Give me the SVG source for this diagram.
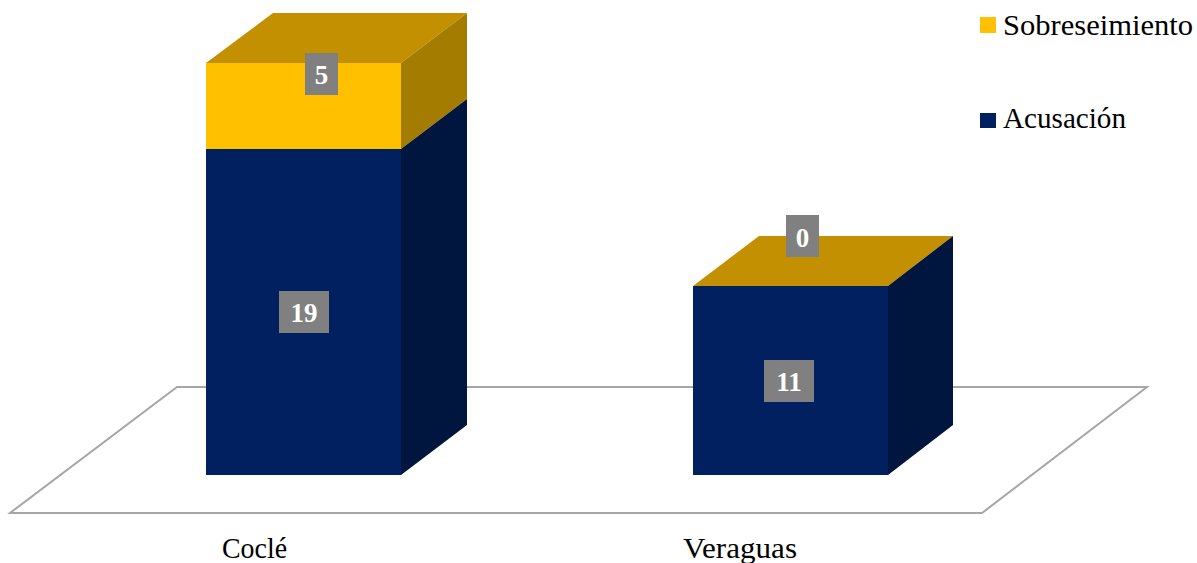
<svg xmlns="http://www.w3.org/2000/svg" width="1197" height="563" viewBox="0 0 1197 563">
<style>
.lbl{font-family:"Liberation Serif","DejaVu Serif",serif;font-weight:bold;font-size:27px;fill:#ffffff;text-anchor:middle}
.txt{font-family:"Liberation Serif","DejaVu Serif",serif;font-size:28.5px;fill:#000000}
.box{fill:#808080}
.navyF{fill:#002060}
.navyS{fill:#00163f}
.yelF{fill:#FFC000}
.yelT{fill:#C29000}
.yelS{fill:#A37C00}
</style>
<rect width="1197" height="563" fill="#ffffff"/>
<g id="floor">
<polygon points="10,513 177,387 1147,387 982,513" fill="#ffffff" stroke="#a6a6a6" stroke-width="2"/>
</g>
<g id="bar-cocle">
<polygon class="yelT" points="206,63 273,13 467,13 401,63"/>
<polygon class="yelS" points="401,63 467,13 467,99 401,149"/>
<polygon class="navyS" points="401,149 467,99 467,425 401,475"/>
<rect class="yelF" x="206" y="63" width="195" height="86"/>
<rect class="navyF" x="206" y="149" width="195" height="326"/>
<rect class="box" x="305" y="53" width="33" height="42"/>
<text class="lbl" x="321.5" y="84">5</text>
<rect class="box" x="279" y="291" width="50" height="42"/>
<text class="lbl" x="304" y="322">19</text>
</g>
<g id="bar-veraguas">
<polygon class="yelT" points="693,286 759,236 953,236 888,286"/>
<polygon class="navyS" points="888,286 953,236 953,425 888,475"/>
<rect class="navyF" x="693" y="286" width="195" height="189"/>
<rect class="box" x="786" y="215" width="33" height="42"/>
<text class="lbl" x="802.5" y="247">0</text>
<rect class="box" x="764" y="360" width="50" height="42"/>
<text class="lbl" x="789" y="391">11</text>
</g>
<g id="axis-labels">
<text class="txt" x="222" y="558" textLength="65" lengthAdjust="spacingAndGlyphs">Coclé</text>
<text class="txt" x="683" y="558" textLength="114" lengthAdjust="spacingAndGlyphs">Veraguas</text>
</g>
<g id="legend">
<rect class="yelF" x="980" y="17" width="16" height="16"/>
<text class="txt" x="1003" y="35" textLength="190" lengthAdjust="spacingAndGlyphs">Sobreseimiento</text>
<rect class="navyF" x="980" y="113" width="16" height="15"/>
<text class="txt" x="1003" y="128" textLength="123" lengthAdjust="spacingAndGlyphs">Acusación</text>
</g>
<g id="connectors"></g>
</svg>
